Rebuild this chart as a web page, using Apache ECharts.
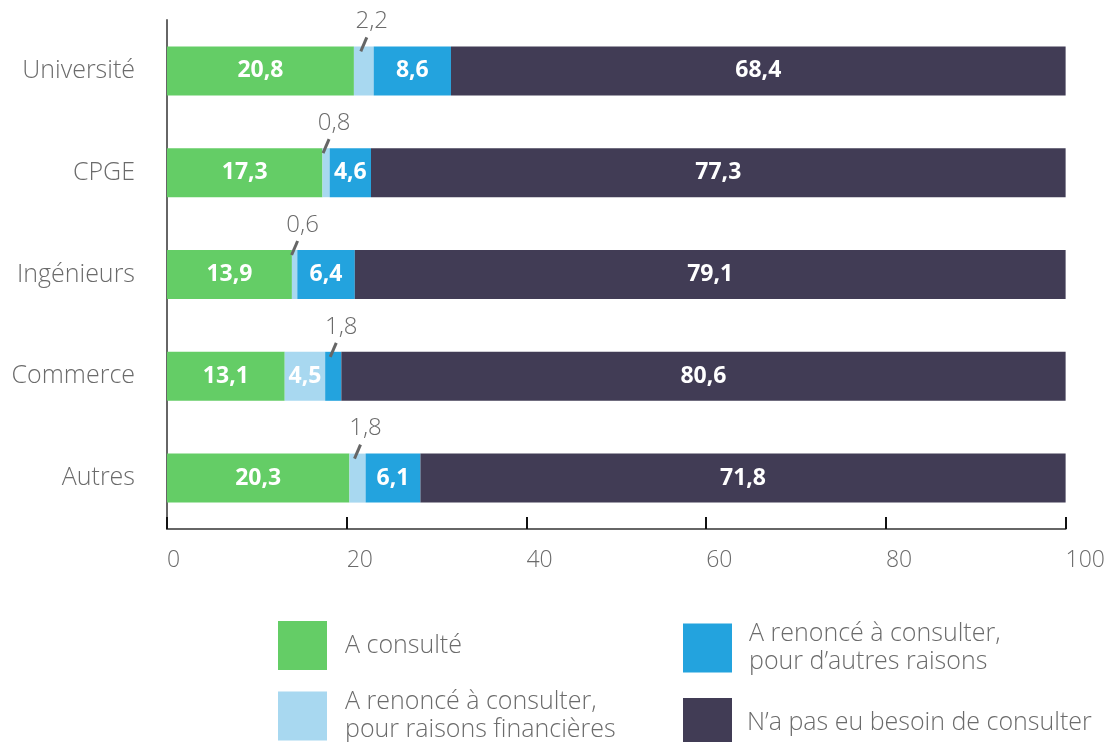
<!DOCTYPE html>
<html>
<head>
<meta charset="utf-8">
<script src="https://cdn.jsdelivr.net/npm/echarts@6/dist/echarts.min.js"></script>
<style>
  html, body { margin: 0; padding: 0; background: #fff; }
  #main { width: 1108px; height: 742px; }
</style>
</head>
<body>
<div id="main"></div>
<script>
// catégories (de haut en bas)
var categories = ['Université', 'CPGE', 'Ingénieurs', 'Commerce', 'Autres'];
var consulte = [20.8, 17.3, 13.9, 13.1, 20.3];
var renonceFin = [2.2, 0.8, 0.6, 4.5, 1.8];
var renonceAutres = [8.6, 4.6, 6.4, 1.8, 6.1];
var pasBesoin = [68.4, 77.3, 79.1, 80.6, 71.8];
var xTicks = [0, 20, 40, 60, 80, 100];

var seriesNames = [
  'A consulté',
  'A renoncé à consulter,\npour raisons financières',
  'A renoncé à consulter,\npour d’autres raisons',
  'N’a pas eu besoin de consulter'
];
var colors = ['#64cd66', '#a8d8f0', '#23a3de', '#413c55'];
var allData = [consulte, renonceFin, renonceAutres, pasBesoin];

var fontFam = '"Open Sans", "Noto Sans", sans-serif';
var grey = '#6b6b6b';
var smallLimit = 3; // en dessous : étiquette au-dessus de la barre

function fmt(v) {
  return String(v).replace('.', ',');
}

// points des petits segments (pour le trait de rappel)
var leaderPts = [];
for (var c = 0; c < categories.length; c++) {
  var start = 0;
  for (var s = 0; s < allData.length; s++) {
    var v = allData[s][c];
    if (v < smallLimit) leaderPts.push([start + v / 2, c]);
    start += v;
  }
}

var series = allData.map(function (arr, si) {
  return {
    name: seriesNames[si],
    type: 'bar',
    stack: 'total',
    barWidth: 49,
    itemStyle: { color: colors[si] },
    label: {
      show: true,
      position: 'inside',
      color: '#fff',
      fontFamily: fontFam,
      fontWeight: 'bold',
      fontSize: 23,
      formatter: function (p) { return fmt(p.value); }
    },
    data: arr.map(function (v) {
      if (v < smallLimit) {
        return {
          value: v,
          label: {
            position: 'top',
            distance: 13,
            offset: [8, 0],
            color: grey,
            fontWeight: 300,
            fontSize: 24
          }
        };
      }
      return v;
    })
  };
});

series.push({
  type: 'custom',
  silent: true,
  z: 10,
  renderItem: function (params, api) {
    var p = api.coord([api.value(0), api.value(1)]);
    var top = p[1] - 24.5;
    return {
      type: 'line',
      shape: { x1: p[0] - 3, y1: top + 5, x2: p[0] + 3, y2: top - 9 },
      style: { stroke: '#666', lineWidth: 3 }
    };
  },
  data: leaderPts
});

// une légende par entrée pour placer la grille 2x2
var legendPos = [
  { left: 278, top: 621, pad: 13 },
  { left: 278, top: 688, pad: 13 },
  { left: 683, top: 620, pad: 12 },
  { left: 683, top: 698, pad: 10 }
];
var legends = legendPos.map(function (lp, i) {
  return {
    left: lp.left,
    top: lp.top,
    padding: 0,
    icon: 'rect',
    itemWidth: 49,
    itemHeight: 49,
    selectedMode: false,
    textStyle: {
      color: grey,
      fontFamily: fontFam,
      fontWeight: 300,
      fontSize: 25,
      lineHeight: 28,
      padding: [0, 0, 0, lp.pad]
    },
    data: [seriesNames[i]]
  };
});

var chart = echarts.init(document.getElementById('main'));
var option = {
  backgroundColor: '#ffffff',
  animation: false,
  grid: {
    left: 167,
    right: 42,
    top: 20,
    height: 509
  },
  legend: legends,
  xAxis: {
    type: 'value',
    min: xTicks[0],
    max: xTicks[xTicks.length - 1],
    interval: 20,
    axisLine: { show: true, lineStyle: { color: '#666', width: 2 } },
    axisTick: { show: true, inside: true, length: 12, lineStyle: { color: '#111', width: 2 } },
    splitLine: { show: false },
    axisLabel: {
      color: grey,
      fontFamily: fontFam,
      fontWeight: 300,
      fontSize: 23,
      margin: 20,
      align: 'left',
      formatter: function (v) { return fmt(v); }
    }
  },
  yAxis: {
    type: 'category',
    inverse: true,
    data: categories,
    axisLine: { show: true, lineStyle: { color: '#666', width: 2 } },
    axisTick: { show: false },
    axisLabel: {
      color: grey,
      fontFamily: fontFam,
      fontWeight: 300,
      fontSize: 25,
      margin: 32
    }
  },
  series: series
};
chart.setOption(option);
</script>
</body>
</html>
